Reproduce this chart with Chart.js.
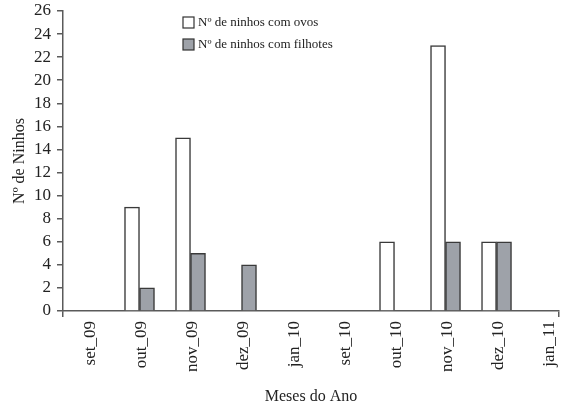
<!DOCTYPE html>
<html>
<head>
<meta charset="utf-8">
<script src="https://cdn.jsdelivr.net/npm/chart.js@4.4.1/dist/chart.umd.min.js"></script>
<style>
  html, body { margin: 0; padding: 0; background: #fff; overflow: hidden; }
  #wrap { width: 568px; height: 408px; position: relative; }
</style>
</head>
<body>
<div id="wrap"><canvas id="c" width="568" height="408"></canvas></div>
<script>
// Months of the survey
const months = ['set_09', 'out_09', 'nov_09', 'dez_09', 'jan_10', 'set_10', 'out_10', 'nov_10', 'dez_10', 'jan_11'];
// Nests with eggs / nests with chicks per month
const ninhosOvos = [0, 9, 15, 0, 0, 0, 6, 23, 6, 0];
const ninhosFilhotes = [0, 2, 5, 4, 0, 0, 0, 6, 6, 0];
// Y axis tick range
const yMin = 0, yMax = 26, yStep = 2;
// Visible x range (month index units)
const xMin = -0.5, xMax = 9.225;

const serif = '"Liberation Serif", "DejaVu Serif", serif';
const axisColor = '#5a5a5a';
const textColor = '#222';

const toPoints = arr => arr.map((v, i) => ({ x: i, y: v }));

// Legend drawn inside the plot area, near the top
const innerLegend = {
  id: 'innerLegend',
  afterDraw(chart) {
    const { ctx, chartArea } = chart;
    const x0 = chartArea.left + 120;
    const y0 = chartArea.top + 6;
    ctx.save();
    ctx.font = '13px ' + serif;
    ctx.textBaseline = 'middle';
    chart.data.datasets.forEach((ds, i) => {
      const y = y0 + i * 22;
      ctx.fillStyle = ds.backgroundColor;
      ctx.fillRect(x0, y, 11, 11);
      ctx.strokeStyle = '#333';
      ctx.lineWidth = 1.2;
      ctx.strokeRect(x0, y, 11, 11);
      ctx.fillStyle = textColor;
      ctx.fillText(ds.label, x0 + 15, y + 6);
    });
    ctx.restore();
  }
};

new Chart(document.getElementById('c'), {
  type: 'bar',
  data: {
    datasets: [
      {
        label: 'Nº de ninhos com ovos',
        data: toPoints(ninhosOvos),
        backgroundColor: '#ffffff',
        borderColor: '#3a3a3a',
        borderWidth: 1.5,
        borderSkipped: 'bottom'
      },
      {
        label: 'Nº de ninhos com filhotes',
        data: toPoints(ninhosFilhotes),
        backgroundColor: '#9ea2a9',
        borderColor: '#3a3a3a',
        borderWidth: 1.5,
        borderSkipped: 'bottom'
      }
    ]
  },
  options: {
    responsive: false,
    animation: false,
    events: [],
    barThickness: 15,
    layout: { padding: { top: 11, right: 9, bottom: 0, left: 0 } },
    plugins: {
      legend: { display: false },
      tooltip: { enabled: false }
    },
    scales: {
      x: {
        type: 'linear',
        min: xMin,
        max: xMax,
        offset: false,
        afterBuildTicks(scale) {
          scale.ticks = [{ value: xMin }].concat(months.map((m, i) => ({ value: i })), [{ value: xMax }]);
        },
        afterFit(scale) {
          scale.height = 97;
          scale.paddingLeft = 0;
          scale.paddingRight = 0;
        },
        grid: {
          offset: false,
          drawOnChartArea: false,
          drawTicks: true,
          tickLength: 6,
          lineWidth: 1.5,
          color: ctx => (ctx.tick && (ctx.tick.value === xMin || ctx.tick.value === xMax)) ? axisColor : 'rgba(0,0,0,0)'
        },
        border: { color: axisColor, width: 1.5 },
        ticks: {
          autoSkip: false,
          maxRotation: 90,
          minRotation: 90,
          padding: 4,
          labelOffset: 2,
          color: textColor,
          font: { family: serif, size: 17 },
          callback: v => (Number.isInteger(v) && months[v] !== undefined) ? months[v] : ''
        },
        title: {
          display: true,
          text: 'Meses do Ano',
          color: textColor,
          font: { family: serif, size: 16 },
          padding: { top: 0, bottom: 2 }
        }
      },
      y: {
        min: yMin,
        max: yMax,
        afterFit(scale) {
          scale.width = 63;
          scale.paddingTop = 0;
          scale.paddingBottom = 0;
        },
        grid: {
          drawOnChartArea: false,
          drawTicks: true,
          tickLength: 6,
          lineWidth: 1.5,
          color: axisColor
        },
        border: { color: axisColor, width: 1.5 },
        ticks: {
          stepSize: yStep,
          autoSkip: false,
          padding: 6,
          color: textColor,
          font: { family: serif, size: 17 }
        },
        title: {
          display: true,
          text: 'Nº de Ninhos',
          color: textColor,
          font: { family: serif, size: 16 },
          padding: { top: 10, bottom: 0 }
        }
      }
    }
  },
  plugins: [innerLegend]
});
</script>
</body>
</html>
